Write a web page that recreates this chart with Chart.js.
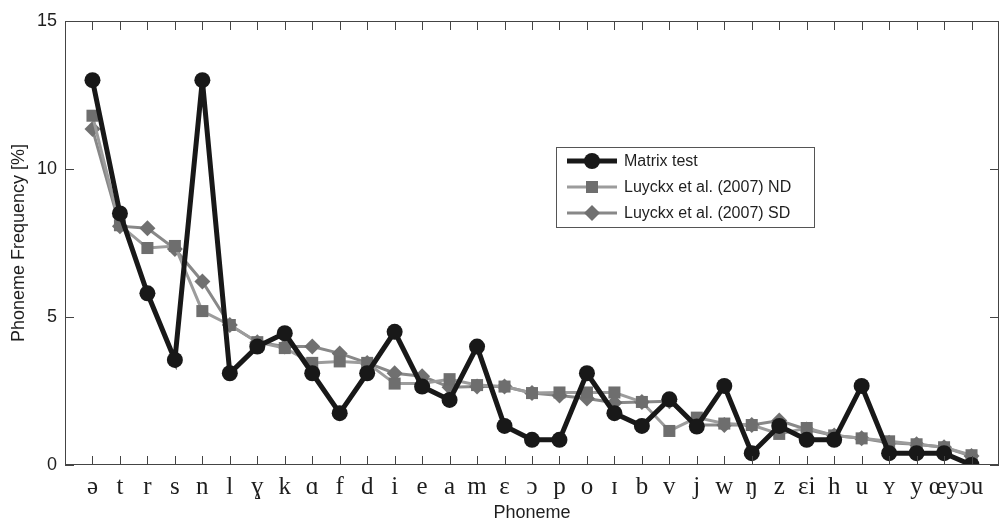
<!DOCTYPE html>
<html>
<head>
<meta charset="utf-8">
<script src="https://cdn.jsdelivr.net/npm/chart.js@4.4.1/dist/chart.umd.min.js"></script>
<style>
  html, body { margin: 0; padding: 0; background: #fff; }
  #wrap { width: 1004px; height: 524px; }
</style>
</head>
<body>
<div id="wrap"><canvas id="chart" width="1004" height="524"></canvas></div>
<script>
// phoneme labels along the x axis
const phonemes = ['ə','t','r','s','n','l','ɣ','k','ɑ','f','d','i','e','a','m','ɛ','ɔ','p','o','ɪ','b','v','j','w','ŋ','z','ɛi','h','u','ʏ','y','œy','ɔu'];

// phoneme frequency, %
const matrixTest = [13.0, 8.5, 5.8, 3.55, 13.0, 3.1, 4.0, 4.45, 3.1, 1.75, 3.1, 4.5, 2.65, 2.2, 4.0, 1.32, 0.85, 0.85, 3.1, 1.75, 1.32, 2.22, 1.3, 2.67, 0.4, 1.32, 0.85, 0.85, 2.67, 0.4, 0.4, 0.4, 0.0];
const luyckxND = [11.8, 8.1, 7.33, 7.4, 5.2, 4.73, 4.15, 3.95, 3.45, 3.5, 3.45, 2.75, 2.75, 2.9, 2.7, 2.65, 2.43, 2.45, 2.45, 2.45, 2.13, 1.15, 1.6, 1.4, 1.35, 1.05, 1.25, 1.0, 0.9, 0.8, 0.7, 0.6, 0.33];
const luyckxSD = [11.35, 8.07, 8.0, 7.3, 6.2, 4.73, 4.15, 4.0, 4.0, 3.77, 3.45, 3.1, 3.0, 2.63, 2.65, 2.65, 2.43, 2.35, 2.25, 2.1, 2.13, 2.15, 1.35, 1.35, 1.35, 1.5, 1.2, 1.0, 0.9, 0.75, 0.7, 0.6, 0.3];

const yTicks = [0, 5, 10, 15];

function toPoints(arr) {
  return arr.map((v, i) => ({ x: i + 1, y: v }));
}

const axisColor = '#444';
const textColor = '#1e1e1e';

// matlab style box with inward tick marks + legend inside the axes
const boxPlugin = {
  id: 'boxPlugin',
  afterDatasetsDraw(chart) {
    const ctx = chart.ctx;
    const a = chart.chartArea;
    const xs = chart.scales.x, ys = chart.scales.y;
    ctx.save();
    ctx.strokeStyle = axisColor;
    ctx.lineWidth = 1;
    ctx.strokeRect(a.left + 0.5, a.top + 0.5, a.right - a.left - 1, a.bottom - a.top - 1);
    const len = 9;
    ctx.beginPath();
    for (let i = 1; i <= phonemes.length; i++) {
      const px = Math.round(xs.getPixelForValue(i)) + 0.5;
      ctx.moveTo(px, a.bottom); ctx.lineTo(px, a.bottom - len);
      ctx.moveTo(px, a.top); ctx.lineTo(px, a.top + len);
    }
    yTicks.forEach(v => {
      const py = Math.round(ys.getPixelForValue(v)) + 0.5;
      ctx.moveTo(a.left, py); ctx.lineTo(a.left + len, py);
      ctx.moveTo(a.right, py); ctx.lineTo(a.right - len, py);
    });
    ctx.stroke();

    // legend
    const lx = 556, ly = 147, lw = 258, lh = 80;
    ctx.fillStyle = '#fff';
    ctx.fillRect(lx, ly, lw, lh);
    ctx.strokeStyle = '#555';
    ctx.strokeRect(lx + 0.5, ly + 0.5, lw, lh);
    ctx.font = '16px "Liberation Sans", Arial, sans-serif';
    ctx.textBaseline = 'middle';
    chart.data.datasets.forEach((ds, i) => {
      const y = ly + 14 + i * 26;
      ctx.strokeStyle = ds.borderColor;
      ctx.lineWidth = ds.borderWidth;
      ctx.beginPath();
      ctx.moveTo(567, y); ctx.lineTo(617, y);
      ctx.stroke();
      ctx.fillStyle = ds.pointBackgroundColor;
      Chart.helpers.drawPoint(ctx, {
        pointStyle: ds.pointStyle, radius: ds.pointRadius, borderWidth: 0, rotation: 0
      }, 592, y);
      ctx.fillStyle = textColor;
      ctx.fillText(ds.label, 624, y + 1);
    });
    ctx.restore();
  }
};

new Chart(document.getElementById('chart'), {
  type: 'line',
  data: {
    datasets: [
      {
        label: 'Matrix test',
        data: toPoints(matrixTest),
        borderColor: '#181818',
        backgroundColor: '#181818',
        pointBackgroundColor: '#181818',
        borderWidth: 5,
        pointStyle: 'circle',
        pointRadius: 8,
        pointBorderWidth: 0
      },
      {
        label: 'Luyckx et al. (2007) ND',
        data: toPoints(luyckxND),
        borderColor: '#9c9c9c',
        backgroundColor: '#6e6e6e',
        pointBackgroundColor: '#6e6e6e',
        borderWidth: 3,
        pointStyle: 'rect',
        pointRadius: 8.5,
        pointBorderWidth: 0
      },
      {
        label: 'Luyckx et al. (2007) SD',
        data: toPoints(luyckxSD),
        borderColor: '#888888',
        backgroundColor: '#707070',
        pointBackgroundColor: '#707070',
        borderWidth: 3,
        pointStyle: 'rectRot',
        pointRadius: 8,
        pointBorderWidth: 0
      }
    ]
  },
  options: {
    responsive: false,
    animation: false,
    layout: { autoPadding: false, padding: { left: 0, top: 21, right: 5, bottom: 0 } },
    plugins: {
      legend: { display: false },
      tooltip: { enabled: false }
    },
    scales: {
      x: {
        type: 'linear',
        min: 0,
        max: phonemes.length + 1,
        afterFit: s => { s.height = 59; s.paddingLeft = 0; s.paddingRight = 0; },
        afterBuildTicks: s => { s.ticks = phonemes.map((p, i) => ({ value: i + 1 })); },
        ticks: {
          autoSkip: false,
          maxRotation: 0,
          padding: 7,
          color: textColor,
          font: { family: '"Liberation Serif", "DejaVu Serif", serif', size: 25 },
          callback: v => phonemes[v - 1] || ''
        },
        grid: { display: false, drawTicks: false },
        border: { display: false },
        title: {
          display: true,
          text: 'Phoneme',
          color: textColor,
          padding: { top: 0, bottom: 0 },
          font: { family: '"Liberation Sans", Arial, sans-serif', size: 18 }
        }
      },
      y: {
        min: 0,
        max: 15,
        afterFit: s => { s.width = 65; },
        afterBuildTicks: s => { s.ticks = yTicks.map(v => ({ value: v })); },
        ticks: {
          padding: 8,
          color: textColor,
          font: { family: '"Liberation Sans", Arial, sans-serif', size: 18 }
        },
        grid: { display: false, drawTicks: false },
        border: { display: false },
        title: {
          display: true,
          text: 'Phoneme Frequency [%]',
          color: textColor,
          padding: { top: 8, bottom: 0 },
          font: { family: '"Liberation Sans", Arial, sans-serif', size: 18 }
        }
      }
    }
  },
  plugins: [boxPlugin]
});
</script>
</body>
</html>
